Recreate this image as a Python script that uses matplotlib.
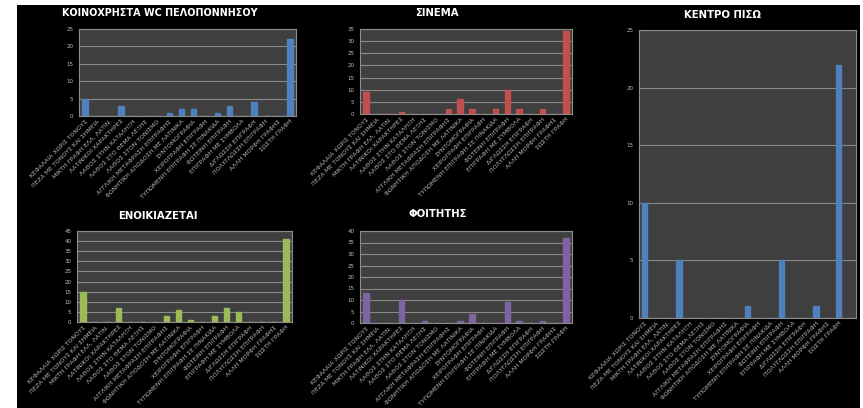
import matplotlib
matplotlib.use("Agg")
import matplotlib.pyplot as plt
from matplotlib.patches import Rectangle
import numpy as np

plt.rcParams['font.family'] = ['DejaVu Sans']

# ---- data ----
categories = [
    "ΚΕΦΑΛΑΙΑ ΧΩΡΙΣ ΤΟΝΟΥΣ",
    "ΠΕΖΑ ΜΕ ΤΟΝΟΥΣ ΚΑΙ ΣΗΜΕΙΑ",
    "ΜΙΚΤΗ ΓΡΑΦΗ ΕΛΛ. ΛΑΤΙΝ.",
    "ΛΑΤΙΝΙΚΟΙ ΧΑΡΑΚΤΗΡΕΣ",
    "ΛΑΘΟΣ ΣΤΗΝ ΚΑΤΑΛΗΞΗ",
    "ΛΑΘΟΣ ΣΤΟ ΘΕΜΑ ΛΕΞΗΣ",
    "ΛΑΘΟΣ ΣΤΟΝ ΤΟΝΙΣΜΟ",
    "ΑΓΓΛΙΚΗ ΜΕΤΑΦΡΑΣΗ ΕΠΙΓΡΑΦΗΣ",
    "ΦΩΝΗΤΙΚΗ ΑΠΟΔΟΣΗ ΜΕ ΛΑΤΙΝΙΚΑ",
    "ΣΥΝΤΟΜΟΓΡΑΦΙΑ",
    "ΧΕΙΡΟΓΡΑΦΗ ΕΠΙΓΡΑΦΗ",
    "ΤΥΠΩΜΕΝΗ ΕΠΙΓΡΑΦΗ ΣΕ ΠΙΝΑΚΙΔΑ",
    "ΦΩΤΕΙΝΗ ΕΠΙΓΡΑΦΗ",
    "ΕΠΙΓΡΑΦΗ ΜΕ ΣΥΜΒΟΛΑ",
    "ΔΙΓΛΩΣΣΗ ΕΠΙΓΡΑΦΗ",
    "ΠΟΛΥΓΛΩΣΣΗ ΕΠΙΓΡΑΦΗ",
    "ΑΛΛΗ ΜΟΡΦΗ ΓΡΑΦΗΣ",
    "ΣΩΣΤΗ ΓΡΑΦΗ",
]
categories_kentro = categories + [""]

wc_values = [5, 0, 0, 3, 0, 0, 0, 1, 2, 2, 0, 1, 3, 0, 4, 0, 0, 22]
sinema_values = [9, 0, 0, 1, 0, 0, 0, 2, 6, 2, 0, 2, 10, 2, 0, 2, 0, 34]
kentro_values = [10, 0, 0, 5, 0, 0, 0, 0, 0, 1, 0, 0, 5, 0, 0, 1, 0, 22, 0]
enoik_values = [15, 0, 0, 7, 0, 0, 0, 3, 6, 1, 0, 3, 7, 5, 0, 0, 0, 41]
foit_values = [13, 0, 0, 10, 0, 1, 0, 0, 1, 4, 0, 0, 9, 1, 0, 1, 0, 37]

titles = ["ΚΟΙΝΟΧΡΗΣΤΑ WC ΠΕΛΟΠΟΝΝΗΣΟΥ", "ΣΙΝΕΜΑ", "ΚΕΝΤΡΟ ΠΙΣΩ",
          "ΕΝΟΙΚΙΑΖΕΤΑΙ", "ΦΟΙΤΗΤΗΣ"]
y_maxes = [25, 35, 25, 45, 40]

W, H = 863, 408
fig = plt.figure(figsize=(W / 100, H / 100), dpi=100)
fig.patch.set_facecolor("white")
fig.patches.append(Rectangle((17 / W, 0), (860 - 17) / W, (H - 5) / H,
                             transform=fig.transFigure, facecolor="black",
                             edgecolor="none", zorder=-10))


def px_axes(x0, y0, x1, y1):
    return fig.add_axes([x0 / W, 1 - y1 / H, (x1 - x0) / W, (y1 - y0) / H])


def draw(ax, cats, vals, color, ymax, title, tx, ty, tsize=7.3):
    x = np.arange(len(cats))
    ax.set_facecolor("#3f3f3f")
    ax.bar(x, vals, width=0.45, color=color, edgecolor=color, zorder=3)
    ax.set_xlim(-0.5, len(cats) - 0.5)
    ax.set_ylim(0, ymax)
    ax.set_yticks(np.arange(0, ymax + 1, 5))
    ax.grid(axis="y", color="#8a8a8a", linewidth=0.8, zorder=1)
    ax.set_axisbelow(True)
    ax.set_xticks(x)
    ax.set_xticklabels(cats, rotation=45, ha="right", rotation_mode="anchor",
                       fontsize=4.4, color="#b8b8b8")
    ax.tick_params(axis="y", labelsize=4, colors="#c0c0c0", length=0, pad=4)
    ax.tick_params(axis="x", length=0, pad=2)
    for s in ax.spines.values():
        s.set_color("#8c8c8c")
        s.set_linewidth(0.8)
    fig.text(tx / W, 1 - ty / H, title, color="white", fontsize=tsize,
             fontweight="bold", ha="center", va="center")


ax1 = px_axes(79, 29, 296, 116)
draw(ax1, categories, wc_values, "#4f81bd", y_maxes[0], titles[0], 160, 13, 6.9)

ax2 = px_axes(360, 29, 572, 114)
draw(ax2, categories, sinema_values, "#c0504d", y_maxes[1], titles[1], 437, 13)

ax3 = px_axes(639, 30, 856, 318)
draw(ax3, categories_kentro, kentro_values, "#4f81bd", y_maxes[2], titles[2], 722, 15)

ax4 = px_axes(77, 231, 292, 322)
draw(ax4, categories, enoik_values, "#9bbb59", y_maxes[3], titles[3], 158, 216)

ax5 = px_axes(360, 231, 572, 323)
draw(ax5, categories, foit_values, "#8064a2", y_maxes[4], titles[4], 438, 214)

fig.savefig("out.png", dpi=100, facecolor=fig.get_facecolor())
